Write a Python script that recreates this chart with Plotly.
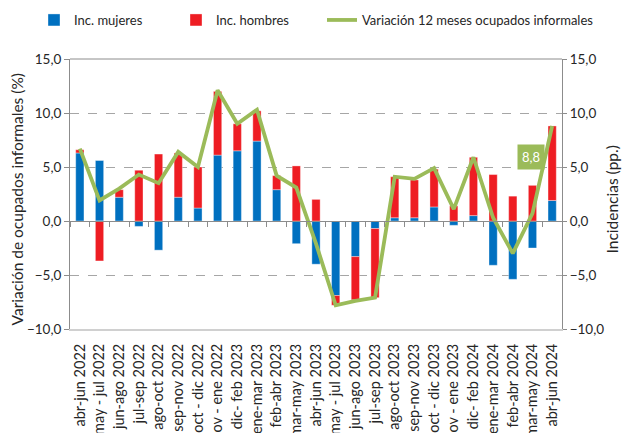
import plotly.graph_objects as go

categories = [
    "abr-jun 2022", "may - jul 2022", "jun-ago 2022", "jul-sep 2022", "ago-oct 2022",
    "sep-nov 2022", "oct - dic 2022", "nov - ene 2022", "dic- feb 2023", "ene-mar 2023",
    "feb-abr 2023", "mar-may 2023", "abr-jun 2023", "may - jul 2023", "jun-ago 2023",
    "jul-sep 2023", "ago-oct 2023", "sep-nov 2023", "oct - dic 2023", "nov - ene 2023",
    "dic- feb 2024", "ene-mar 2024", "feb-abr 2024", "mar-may 2024", "abr-jun 2024",
]
inc_mujeres = [6.3, 5.6, 2.2, -0.5, -2.7, 2.2, 1.2, 6.1, 6.5, 7.4,
               2.9, -2.1, -4.0, -6.9, -3.3, -0.7, 0.3, 0.3, 1.3, -0.4,
               0.5, -4.1, -5.4, -2.5, 1.9]
inc_hombres = [0.3, -3.7, 0.7, 4.7, 6.2, 4.1, 3.8, 5.9, 2.5, 2.8,
               1.3, 5.1, 2.0, -0.9, -4.0, -6.4, 3.8, 3.5, 3.5, 1.4,
               5.4, 4.3, 2.3, 3.3, 6.9]
variacion = [6.7, 1.9, 3.0, 4.3, 3.5, 6.4, 5.0, 12.1, 9.0, 10.3,
             4.2, 3.1, -2.1, -7.8, -7.4, -7.1, 4.1, 3.9, 4.9, 1.1,
             5.9, 0.3, -3.0, 0.7, 8.8]
y_ticks = [-10, -5, 0, 5, 10, 15]

FONT = "Lato, Carlito, Arial, sans-serif"
TXT = "#262626"
BLUE = "#0070C0"
RED = "#EE1D23"
GREEN = "#9BBB59"
W, H = 626, 433

fig = go.Figure()
fig.add_trace(go.Bar(
    x=categories, y=inc_mujeres, name="Inc. mujeres", legend="legend",
    marker=dict(color=BLUE, line=dict(color="rgba(255,255,255,0.45)", width=0.8)),
    xaxis="x", yaxis="y",
))
fig.add_trace(go.Bar(
    x=categories, y=inc_hombres, name="Inc. hombres", legend="legend2",
    marker=dict(color=RED, line=dict(color="rgba(255,255,255,0.45)", width=0.8)),
    xaxis="x", yaxis="y",
))
fig.add_trace(go.Scatter(
    x=categories, y=variacion, name="Variación 12 meses ocupados informales",
    legend="legend3", mode="lines", line=dict(color=GREEN, width=3.8),
    xaxis="x2", yaxis="y2",
))

fig.add_annotation(
    x=categories[-1], y=variacion[-1], xref="x2", yref="y2",
    text="8,8", showarrow=False, xshift=-21, yshift=-31,
    bgcolor=GREEN, borderpad=4,
    font=dict(family=FONT, size=13, color="white"),
)
# axis titles
fig.add_annotation(
    x=0, y=0.48, xref="paper", yref="paper", text="Variación de ocupados informales (%)",
    textangle=-90, showarrow=False, xanchor="center", yanchor="middle", xshift=-53,
    font=dict(family=FONT, size=15.5, color=TXT),
)
fig.add_annotation(
    x=1.0, y=0.48, xref="paper", yref="paper", text="Incidencias (pp.)",
    textangle=-90, showarrow=False, xanchor="center", yanchor="middle", xshift=50,
    font=dict(family=FONT, size=15.5, color=TXT),
)

# top border
fig.add_shape(type="line", xref="paper", yref="paper", x0=0, x1=1, y0=1, y1=1,
              line=dict(color="#8C8C8C", width=1))

legend_common = dict(orientation="h", xref="container", yref="container",
                     xanchor="left", y=1 - 20 / H, yanchor="middle", itemwidth=30,
                     font=dict(size=13, family=FONT, color=TXT))

fig.update_layout(
    width=W, height=H,
    margin=dict(l=70, r=64, t=59, b=104, autoexpand=False),
    paper_bgcolor="white", plot_bgcolor="white",
    separators=",.",
    barmode="relative", bargap=0.58,
    font=dict(family=FONT, size=12, color=TXT),
    showlegend=True,
    legend=dict(legend_common, x=34 / W),
    legend2=dict(legend_common, x=176 / W),
    legend3=dict(legend_common, x=322 / W),
    xaxis=dict(
        domain=[0, 1], categoryorder="array", categoryarray=categories,
        tickangle=-90, ticks="", showline=True, linecolor="#D0D0D0", linewidth=2,
        tickfont=dict(size=14.5, family=FONT, color=TXT), automargin=False,
        ticklabelstandoff=7,
    ),
    xaxis2=dict(
        overlaying="x", matches="x", anchor="free", position=0.4,
        showticklabels=False, ticks="outside", ticklen=5, tickcolor="#8C8C8C",
        tickson="boundaries", showline=True, linecolor="#8C8C8C", linewidth=1,
        showgrid=False,
    ),
    yaxis=dict(
        range=[-10, 15], tickvals=y_ticks, tickformat=".1f",
        showgrid=True, gridcolor="#A6A6A6", griddash="dash", gridwidth=1,
        zeroline=False, showline=True, linecolor="#8C8C8C", linewidth=1,
        ticks="outside", ticklen=5, tickcolor="#8C8C8C",
        tickfont=dict(size=13.5, family=FONT, color=TXT),
        automargin=False,
    ),
    yaxis2=dict(
        range=[-10, 15], tickvals=y_ticks, tickformat=".1f", overlaying="y",
        side="right", anchor="x", showgrid=False, zeroline=False,
        showline=True, linecolor="#8C8C8C", linewidth=1,
        ticks="outside", ticklen=4, tickcolor="#8C8C8C",
        tickfont=dict(size=13.5, family=FONT, color=TXT),
        automargin=False,
    ),
)

fig.write_html("out.html", config={"displayModeBar": False},
               post_script="document.body.style.margin='0px';")
